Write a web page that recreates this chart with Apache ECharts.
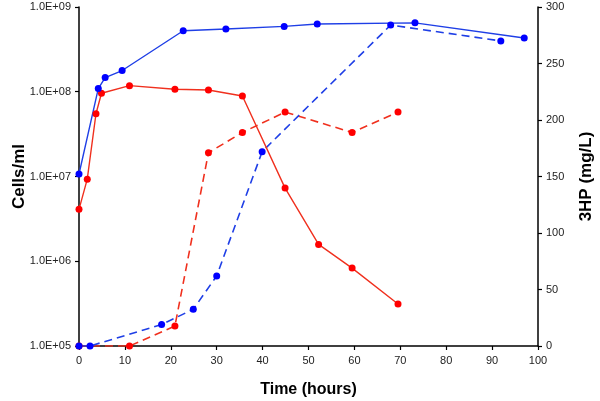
<!DOCTYPE html>
<html><head><meta charset="utf-8">
<script src="https://cdn.jsdelivr.net/npm/echarts@6/dist/echarts.min.js"></script>
<style>html,body{margin:0;padding:0;background:#fff}#c{width:600px;height:401px}</style>
</head><body><div id="c"></div>
<script>
// Cells/ml (log axis)
const blueCellsX = [0, 4.2, 5.7, 9.4, 22.7, 32, 44.7, 51.9, 73.2, 97];
const blueCellsY = [1.07e7, 1.09e8, 1.47e8, 1.78e8, 5.25e8, 5.5e8, 5.9e8, 6.3e8, 6.5e8, 4.3e8];
const redCellsX = [0, 1.8, 3.7, 4.9, 11, 20.9, 28.2, 35.6, 44.9, 52.2, 59.5, 69.5];
const redCellsY = [4.1e6, 9.3e6, 5.5e7, 9.6e7, 1.18e8, 1.07e8, 1.05e8, 8.9e7, 7.3e6, 1.58e6, 8.3e5, 3.13e5];
// 3HP mg/L (right axis)
const blue3hpX = [0, 2.4, 18, 24.9, 30, 39.9, 67.9, 91.9];
const blue3hpY = [0, 0, 19, 32.5, 62, 172, 284, 270];
const red3hpX = [0, 11, 20.9, 28.2, 35.6, 44.9, 59.5, 69.5];
const red3hpY = [0, 0, 17.7, 171, 189, 207, 189, 207];

const zip = (xs, ys) => xs.map((x, i) => [x, ys[i]]);
const BLUE = '#0000ff', BLUE_L = '#1f3fe6', RED = '#ff0000', RED_L = '#f0301e';
const lbl = {fontFamily: 'Liberation Sans, Arial', fontSize: 11, color: '#222'};
const ttl = {fontFamily: 'Liberation Sans, Arial', fontWeight: 'bold', color: '#000'};
const axLine = {show: true, onZero: false, lineStyle: {color: '#000', width: 1.5}};
const tick = {show: true, inside: false, length: 4, lineStyle: {color: '#000', width: 1.2}};

const chart = echarts.init(document.getElementById('c'), null, {renderer: 'canvas'});
chart.setOption({
  animation: false,
  grid: {left: 79, right: 62, top: 7, bottom: 55, containLabel: false, outerBoundsMode: 'none'},
  xAxis: {
    type: 'value', min: 0, max: 100, interval: 10,
    axisLine: axLine, axisTick: tick, splitLine: {show: false},
    axisLabel: Object.assign({margin: 9}, lbl),
    name: 'Time (hours)', nameLocation: 'middle', nameGap: 36,
    nameTextStyle: Object.assign({fontSize: 16}, ttl)
  },
  yAxis: [{
    type: 'log', logBase: 10, min: 1e5, max: 1e9, position: 'left',
    axisLine: axLine, axisTick: tick, splitLine: {show: false}, minorTick: {show: false},
    axisLabel: Object.assign({margin: 8, formatter: v => {
      const e = Math.round(Math.log10(v));
      return '1.0E+' + (e < 10 ? '0' : '') + e;
    }}, lbl),
    name: 'Cells/ml', nameLocation: 'middle', nameGap: 51, nameRotate: 90, nameMoveOverlap: false,
    nameTextStyle: Object.assign({fontSize: 17}, ttl)
  }, {
    type: 'value', min: 0, max: 300, interval: 50, position: 'right',
    axisLine: axLine, axisTick: tick, splitLine: {show: false},
    axisLabel: Object.assign({margin: 8}, lbl),
    name: '3HP (mg/L)', nameLocation: 'middle', nameGap: 40, nameRotate: 90,
    nameTextStyle: Object.assign({fontSize: 17}, ttl)
  }],
  series: [
    {type: 'line', yAxisIndex: 1, data: zip(red3hpX, red3hpY), symbol: 'circle', symbolSize: 7,
     itemStyle: {color: RED}, lineStyle: {color: RED_L, width: 1.6, type: [8, 5]}},
    {type: 'line', yAxisIndex: 1, data: zip(blue3hpX, blue3hpY), symbol: 'circle', symbolSize: 7,
     itemStyle: {color: BLUE}, lineStyle: {color: BLUE_L, width: 1.6, type: [8, 5]}},
    {type: 'line', yAxisIndex: 0, data: zip(redCellsX, redCellsY), symbol: 'circle', symbolSize: 7,
     itemStyle: {color: RED}, lineStyle: {color: RED_L, width: 1.4}},
    {type: 'line', yAxisIndex: 0, data: zip(blueCellsX, blueCellsY), symbol: 'circle', symbolSize: 7,
     itemStyle: {color: BLUE}, lineStyle: {color: BLUE_L, width: 1.4}}
  ]
});
</script></body></html>
